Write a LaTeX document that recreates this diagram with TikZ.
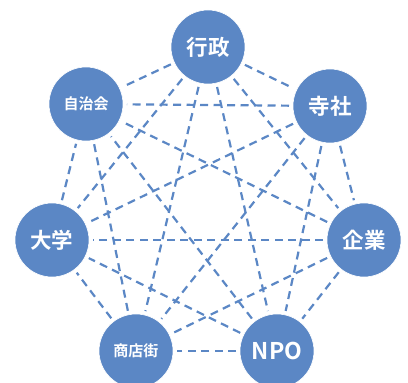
\documentclass[tikz,border=0pt]{standalone}
\usepackage{fontspec}
\newfontfamily\jp{Noto Sans CJK JP}[BoldFont={* Bold}]
\definecolor{nodeblue}{HTML}{5B87C5}
\begin{document}
\begin{tikzpicture}[x=1pt,y=1pt,
  actor/.style={circle,fill=nodeblue,draw=white,line width=0.6pt,minimum size=74pt,inner sep=0pt,outer sep=4pt,text=white,font=\jp\bfseries},
  big/.style={font=\jp\bfseries\fontsize{21.5}{22}\selectfont},
  small/.style={font=\jp\bfseries\fontsize{15}{15}\selectfont},
  link/.style={draw=nodeblue,line width=2.2pt,dash pattern=on 8pt off 5.5pt}]
\clip (0,0) rectangle (408,383);
\useasboundingbox (0,0) rectangle (408,383);
\coordinate (pa) at (208,336);
\coordinate (pb) at (330,277);
\coordinate (pc) at (364,143);
\coordinate (pd) at (277,32);
\coordinate (pe) at (136,32);
\coordinate (pf) at (52,143);
\coordinate (pg) at (86,279);
\foreach \u/\v in {pa/pb,pa/pc,pa/pd,pa/pe,pa/pf,pa/pg,pb/pc,pb/pd,pb/pe,pb/pf,pb/pg,pc/pd,pc/pe,pc/pf,pc/pg,pd/pe,pd/pf,pd/pg,pe/pf,pe/pg,pf/pg}
  \path[link,shorten <=41pt,shorten >=41pt] (\u) -- (\v);
\node[actor,big] (a) at (pa) {行政};
\node[actor,big] (b) at (pb) {寺社};
\node[actor,big] (c) at (pc) {企業};
\node[actor,font=\jp\bfseries\fontsize{23}{23}\selectfont] (d) at (pd) {NPO};
\node[actor,small] (e) at (pe) {商店街};
\node[actor,big] (f) at (pf) {大学};
\node[actor,small] (g) at (pg) {自治会};
\end{tikzpicture}
\end{document}
